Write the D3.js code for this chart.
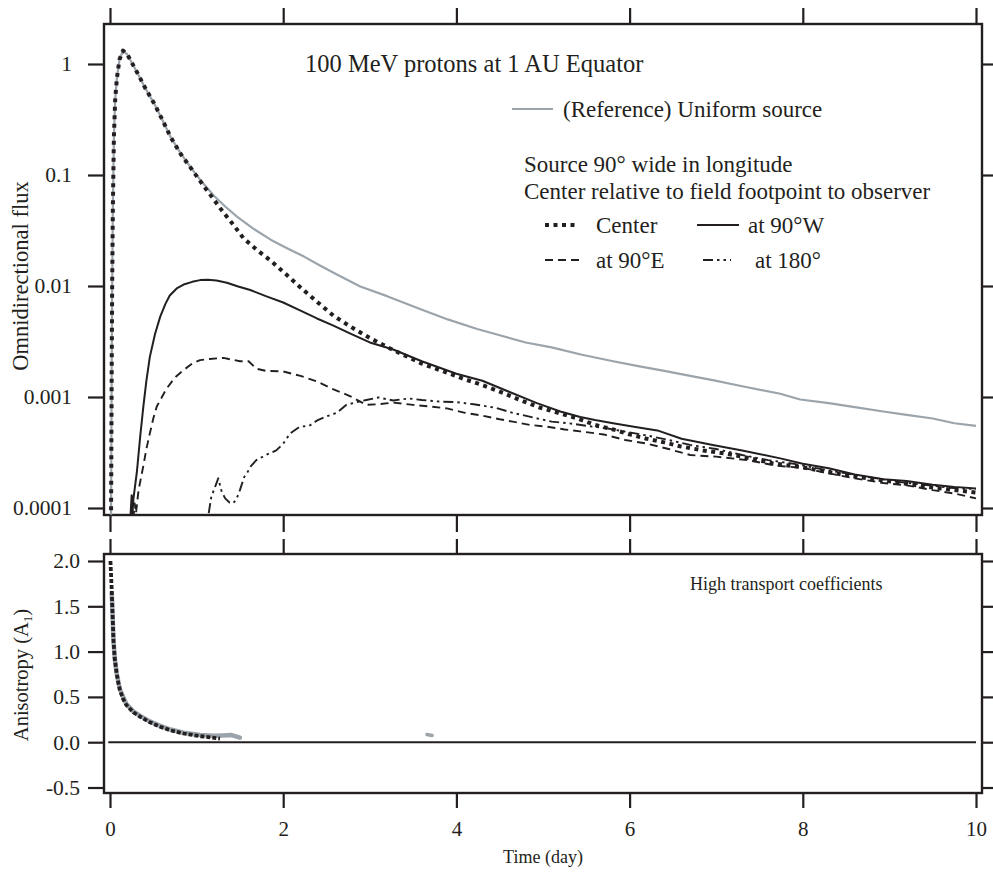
<!DOCTYPE html>
<html><head><meta charset="utf-8">
<script src="https://cdn.jsdelivr.net/npm/d3@7"></script>
<style>
html,body{margin:0;padding:0;background:#fff;}
text{font-family:"Liberation Serif","Times New Roman",serif;fill:#231f20;}
</style></head>
<body><svg id="c" width="993" height="875"></svg>
<script>
// ---------- data ----------
const xTicks = [0, 2, 4, 6, 8, 10];
const fluxTicks = [1, 0.1, 0.01, 0.001, 0.0001];
const fluxTickLabels = ["1", "0.1", "0.01", "0.001", "0.0001"];
const anisoTicks = [2.0, 1.5, 1.0, 0.5, 0.0, -0.5];
const anisoTickLabels = ["2.0", "1.5", "1.0", "0.5", "0.0", "-0.5"];

const fluxUniform = [[0.012,8e-5],[0.02,0.002],[0.025,0.01],[0.033,0.05],[0.045,0.22],[0.06,0.48],[0.08,0.75],[0.11,1.1],[0.15,1.32],[0.2,1.22],[0.26,1.0],[0.32,0.82],[0.41,0.6],[0.51,0.44],[0.6,0.32],[0.70,0.22],[0.82,0.155],[0.95,0.112],[1.07,0.085],[1.2,0.065],[1.33,0.052],[1.47,0.042],[1.65,0.033],[1.86,0.026],[2.05,0.0218],[2.24,0.0184],[2.43,0.0152],[2.62,0.0127],[2.89,0.0099],[3.2,0.0081],[3.58,0.0062],[3.9,0.0050],[4.24,0.0041],[4.5,0.0036],[4.8,0.0031],[5.1,0.0028],[5.45,0.0024],[5.81,0.0021],[6.1,0.0019],[6.4,0.00172],[6.7,0.00155],[6.96,0.00142],[7.3,0.00125],[7.74,0.00107],[7.97,0.00095],[8.3,0.00088],[8.6,0.00081],[8.93,0.00074],[9.2,0.00069],[9.5,0.00064],[9.75,0.00058],[10.0,0.00055]];

const fluxCenter = [[0.012,8e-5],[0.02,0.002],[0.025,0.01],[0.033,0.05],[0.045,0.22],[0.06,0.48],[0.08,0.75],[0.11,1.1],[0.15,1.32],[0.2,1.22],[0.26,1.0],[0.32,0.82],[0.41,0.6],[0.51,0.44],[0.6,0.32],[0.70,0.22],[0.82,0.153],[0.95,0.111],[1.09,0.078],[1.2,0.06],[1.3,0.047],[1.42,0.036],[1.54,0.027],[1.7,0.021],[1.86,0.0168],[2.03,0.0128],[2.2,0.0097],[2.4,0.0071],[2.58,0.0054],[2.8,0.0042],[3.0,0.0034],[3.27,0.00265],[3.6,0.0020],[3.85,0.0017],[4.08,0.00146],[4.3,0.00128],[4.5,0.00112],[4.75,0.00093],[4.97,0.0008],[5.2,0.00071],[5.4,0.00064],[5.6,0.00056],[5.81,0.00051],[6.0,0.00046],[6.2,0.00042],[6.4,0.00039],[6.58,0.00036],[6.85,0.00033],[7.1,0.00031],[7.4,0.00028],[7.66,0.000252],[8.0,0.000232],[8.3,0.00021],[8.6,0.000192],[8.93,0.000177],[9.2,0.000165],[9.5,0.000153],[9.75,0.000145],[10.0,0.000138]];

const fluxWest = [[0.235,8e-5],[0.25,0.00013],[0.26,9e-5],[0.27,0.00012],[0.31,0.00021],[0.35,0.00045],[0.385,0.00082],[0.42,0.0014],[0.46,0.0023],[0.52,0.0037],[0.58,0.0053],[0.64,0.0069],[0.69,0.0082],[0.77,0.0095],[0.85,0.0103],[0.95,0.0109],[1.04,0.0113],[1.13,0.0114],[1.23,0.0112],[1.35,0.0107],[1.48,0.0099],[1.62,0.0092],[1.8,0.0081],[2.0,0.0071],[2.2,0.0060],[2.39,0.0051],[2.58,0.0044],[2.77,0.00375],[3.0,0.0031],[3.27,0.00268],[3.6,0.0021],[4.0,0.00162],[4.3,0.0014],[4.6,0.00112],[4.93,0.00088],[5.2,0.00074],[5.43,0.00066],[5.6,0.00062],[5.81,0.00058],[6.05,0.00054],[6.32,0.0005],[6.6,0.00042],[6.96,0.00037],[7.3,0.00033],[7.74,0.00028],[8.0,0.00025],[8.3,0.000228],[8.6,0.0002],[8.93,0.000182],[9.2,0.000175],[9.5,0.000162],[9.75,0.000155],[10,0.00015]];

const fluxEast = [[0.27,8e-5],[0.285,0.00011],[0.3,9e-5],[0.33,0.000145],[0.385,0.00024],[0.42,0.00034],[0.46,0.00047],[0.5,0.00064],[0.54,0.00082],[0.6,0.001],[0.65,0.00118],[0.75,0.0015],[0.85,0.00175],[0.95,0.002],[1.04,0.00215],[1.15,0.0022],[1.31,0.00225],[1.5,0.0021],[1.6,0.0021],[1.69,0.0018],[1.8,0.00172],[2.0,0.0017],[2.2,0.00155],[2.39,0.00138],[2.55,0.0012],[2.77,0.00102],[2.96,0.00085],[3.1,0.00086],[3.27,0.00089],[3.5,0.00085],[3.7,0.00082],[3.89,0.00079],[4.1,0.00072],[4.3,0.00068],[4.5,0.00063],[4.65,0.0006],[4.85,0.00056],[5.05,0.00054],[5.25,0.00051],[5.43,0.00049],[5.7,0.00046],[5.95,0.00041],[6.2,0.00038],[6.45,0.00034],[6.7,0.0003],[7.0,0.00029],[7.36,0.00027],[7.7,0.00024],[8.0,0.00023],[8.3,0.000205],[8.6,0.000185],[8.93,0.000168],[9.2,0.00016],[9.5,0.000145],[9.75,0.000135],[10,0.000122]];

const flux180 = [[1.14,9e-5],[1.17,0.000126],[1.22,0.00016],[1.25,0.000185],[1.29,0.00014],[1.33,0.000122],[1.38,0.000112],[1.42,0.00011],[1.46,0.00012],[1.5,0.000145],[1.55,0.00019],[1.58,0.000205],[1.63,0.00024],[1.69,0.00027],[1.8,0.0003],[1.92,0.00033],[2.0,0.00038],[2.08,0.00047],[2.19,0.00054],[2.3,0.00055],[2.4,0.00062],[2.5,0.00067],[2.62,0.00072],[2.73,0.00085],[2.85,0.0009],[2.96,0.00094],[3.1,0.00099],[3.27,0.00093],[3.45,0.00097],[3.6,0.00094],[3.8,0.00091],[4.0,0.0009],[4.2,0.00086],[4.45,0.0008],[4.65,0.00072],[4.9,0.00065],[5.1,0.0006],[5.3,0.00058],[5.5,0.00055],[5.75,0.00052],[6.0,0.00048],[6.2,0.00045],[6.45,0.00041],[6.7,0.00037],[7.0,0.00034],[7.3,0.0003],[7.6,0.00027],[7.9,0.00025],[8.2,0.000225],[8.5,0.000205],[8.8,0.000188],[9.1,0.000172],[9.4,0.000162],[9.7,0.000152],[10,0.000148]];

const anisoCenter = [[0.005,2.0],[0.02,1.68],[0.03,1.4],[0.04,1.13],[0.055,0.92],[0.077,0.76],[0.095,0.66],[0.115,0.575],[0.15,0.48],[0.19,0.41],[0.27,0.33],[0.35,0.28],[0.46,0.22],[0.58,0.17],[0.7,0.13],[0.85,0.096],[1.04,0.066],[1.27,0.04]];
const anisoUniform = [[0.02,1.65],[0.03,1.4],[0.04,1.13],[0.055,0.92],[0.077,0.76],[0.115,0.58],[0.19,0.42],[0.27,0.34],[0.35,0.29],[0.46,0.23],[0.58,0.18],[0.7,0.14],[0.85,0.105],[1.04,0.08],[1.2,0.07],[1.3,0.075],[1.4,0.08],[1.5,0.05]];
const anisoUniformBlip = [[3.66,0.085],[3.72,0.075]];
const zeroLine = [[-0.02,0],[10,0]];

// ---------- layout ----------
const svg = d3.select("#c");
const INK = "#231f20", GRAY = "#9ba4ab";
const L = 104, R = 982;
const top1 = 24, bot1 = 515, top2 = 554, bot2 = 793;
const x = d3.scaleLinear().domain([0, 10]).range([110, 976]);
const yF = d3.scaleLog().domain([1e-4, 1]).range([508, 64]);
const yA = d3.scaleLinear().domain([-0.5, 2]).range([787.5, 561]);

svg.append("defs").call(d => {
  d.append("clipPath").attr("id","c1").append("rect").attr("x",L).attr("y",top1).attr("width",R-L).attr("height",bot1-top1);
  d.append("clipPath").attr("id","c2").append("rect").attr("x",L).attr("y",top2).attr("width",R-L).attr("height",bot2-top2);
});

function axisStyle(g){ g.select(".domain").remove(); g.selectAll("line").attr("stroke",INK).attr("stroke-width",2.2); }

// x ticks
svg.append("g").attr("transform",`translate(0,${top1})`).call(d3.axisTop(x).tickValues(xTicks).tickSize(16).tickFormat("")).call(axisStyle);
svg.append("g").attr("transform",`translate(0,${bot1})`).call(d3.axisBottom(x).tickValues(xTicks).tickSize(17).tickFormat("")).call(axisStyle);
svg.append("g").attr("transform",`translate(0,${top2})`).call(d3.axisTop(x).tickValues(xTicks).tickSize(15).tickFormat("")).call(axisStyle);
const xb = svg.append("g").attr("transform",`translate(0,${bot2})`).call(d3.axisBottom(x).tickValues(xTicks).tickSize(15).tickPadding(13).tickFormat(d3.format("d"))).call(axisStyle);
xb.selectAll("text").attr("font-size",21).attr("fill",INK).style("font-family","Liberation Serif");

// y ticks top panel
const yl1 = svg.append("g").attr("transform",`translate(${L},0)`).call(d3.axisLeft(yF).tickValues(fluxTicks).tickSize(16).tickPadding(16).tickFormat((d,i)=>fluxTickLabels[i])).call(axisStyle);
yl1.selectAll("text").attr("font-size",21.5).attr("fill",INK).style("font-family","Liberation Serif");
svg.append("g").attr("transform",`translate(${R},0)`).call(d3.axisRight(yF).tickValues(fluxTicks).tickSize(12).tickFormat("")).call(axisStyle);
// y ticks bottom panel
const yl2 = svg.append("g").attr("transform",`translate(${L},0)`).call(d3.axisLeft(yA).tickValues(anisoTicks).tickSize(16).tickPadding(8).tickFormat((d,i)=>anisoTickLabels[i])).call(axisStyle);
yl2.selectAll("text").attr("font-size",21.5).attr("fill",INK).style("font-family","Liberation Serif");
svg.append("g").attr("transform",`translate(${R},0)`).call(d3.axisRight(yA).tickValues(anisoTicks).tickSize(12).tickFormat("")).call(axisStyle);

// frames
[[top1,bot1],[top2,bot2]].forEach(([t,b]) => svg.append("rect").attr("x",L).attr("y",t).attr("width",R-L).attr("height",b-t).attr("fill","none").attr("stroke",INK).attr("stroke-width",2.4));

// ---------- lines top ----------
const lf = d3.line().x(d=>x(d[0])).y(d=>yF(d[1]));
const g1 = svg.append("g").attr("clip-path","url(#c1)");
const series1 = [
  {d: fluxUniform, c: GRAY, w: 2.2, dash: null},
  {d: fluxEast, c: INK, w: 1.9, dash: "8,5"},
  {d: flux180, c: INK, w: 1.9, dash: "10,4,2.5,4,2.5,4"},
  {d: fluxWest, c: INK, w: 2.0, dash: null},
  {d: fluxCenter, c: INK, w: 4, dash: "4,4.5"}
];
series1.forEach(s => g1.append("path").attr("d", lf(s.d)).attr("fill","none").attr("stroke",s.c).attr("stroke-width",s.w).attr("stroke-dasharray",s.dash).attr("stroke-linejoin","round"));

// ---------- lines bottom ----------
const la = d3.line().x(d=>x(d[0])).y(d=>yA(d[1]));
const g2 = svg.append("g").attr("clip-path","url(#c2)");
g2.append("path").attr("d", la(zeroLine)).attr("fill","none").attr("stroke",INK).attr("stroke-width",2);
g2.append("path").attr("d", la(anisoUniform)).attr("fill","none").attr("stroke",GRAY).attr("stroke-width",4.5).attr("stroke-linecap","round");
g2.append("path").attr("d", la(anisoUniformBlip)).attr("fill","none").attr("stroke",GRAY).attr("stroke-width",3.5).attr("stroke-linecap","round");
g2.append("path").attr("d", la(anisoCenter)).attr("fill","none").attr("stroke",INK).attr("stroke-width",3.8).attr("stroke-dasharray","4,2");

// ---------- texts ----------
svg.append("text").attr("x",305).attr("y",72).attr("font-size",24.5).text("100 MeV protons at 1 AU Equator");
svg.append("line").attr("x1",512).attr("x2",553).attr("y1",109).attr("y2",109).attr("stroke",GRAY).attr("stroke-width",2.2);
svg.append("text").attr("x",563).attr("y",117).attr("font-size",23).text("(Reference) Uniform source");
svg.append("text").attr("x",524).attr("y",172).attr("font-size",23).text("Source 90° wide in longitude");
svg.append("text").attr("x",524).attr("y",199).attr("font-size",23).text("Center relative to field footpoint to observer");
const leg = [
  {x1:545,x2:578,y:225,tx:596,t:"Center",w:4,dash:"4,4.5"},
  {x1:697,x2:739,y:225,tx:748,t:"at 90°W",w:2,dash:null},
  {x1:545,x2:581,y:260,tx:596,t:"at 90°E",w:1.9,dash:"8,5"},
  {x1:703,x2:731,y:260,tx:755,t:"at 180°",w:1.9,dash:"10,4,2.5,4,2.5,4"}
];
leg.forEach(l => {
  svg.append("line").attr("x1",l.x1).attr("x2",l.x2).attr("y1",l.y).attr("y2",l.y).attr("stroke",INK).attr("stroke-width",l.w).attr("stroke-dasharray",l.dash);
  svg.append("text").attr("x",l.tx).attr("y",l.y+8).attr("font-size",23).text(l.t);
});
svg.append("text").attr("x",690).attr("y",590).attr("font-size",18).text("High transport coefficients");
svg.append("text").attr("transform","translate(28,276) rotate(-90)").attr("text-anchor","middle").attr("font-size",22.5).text("Omnidirectional flux");
const at = svg.append("text").attr("transform","translate(28,675) rotate(-90)").attr("text-anchor","middle").attr("font-size",20.5);
at.append("tspan").text("Anisotropy (A");
at.append("tspan").attr("font-size",13).attr("dy",4).text("1");
at.append("tspan").attr("dy",-4).text(")");
svg.append("text").attr("x",543).attr("y",863).attr("text-anchor","middle").attr("font-size",18).text("Time (day)");
</script></body></html>
